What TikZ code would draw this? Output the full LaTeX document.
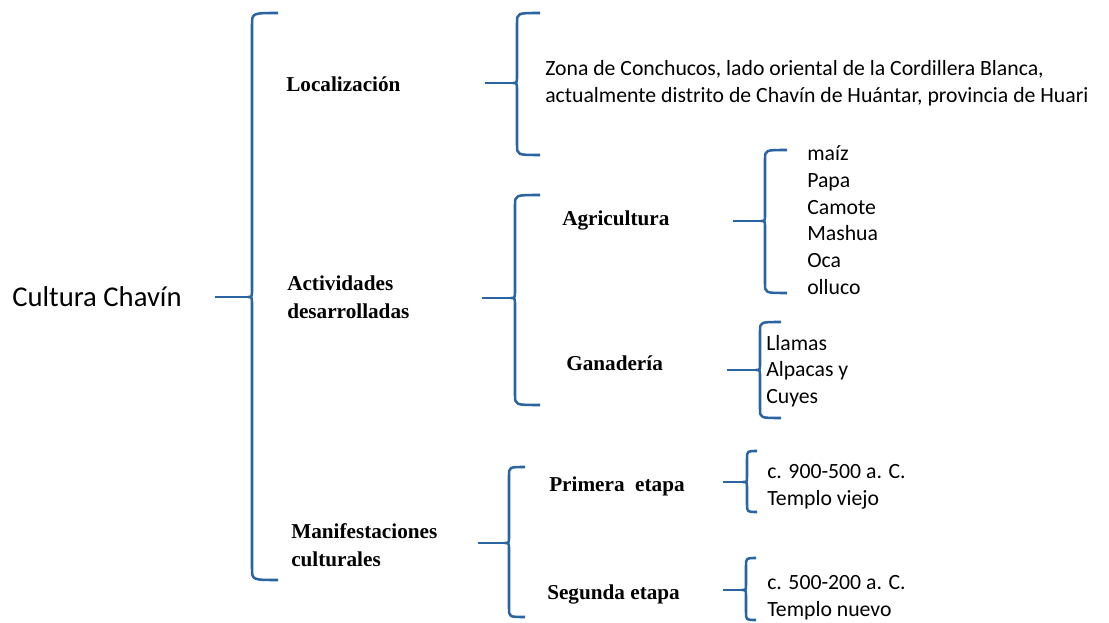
\documentclass[tikz,border=0pt]{standalone}
\usepackage{fontspec}
\setmainfont{Carlito}
\newfontfamily\romana{Liberation Serif}
\usepackage{tikz}

\definecolor{azulllave}{RGB}{42,100,162}

\tikzset{
  llave/.style={draw=azulllave, line width=1.9pt, line join=round},
  titulo/.style={anchor=west, inner sep=0pt, font=\fontsize{21.5}{26}\selectfont},
  rama/.style={anchor=west, inner sep=0pt, align=left, font=\romana\bfseries\fontsize{15.9}{21}\selectfont},
  lista/.style={anchor=west, inner sep=0pt, align=left, font=\fontsize{16.3}{20}\selectfont}
}

\begin{document}
\begin{tikzpicture}[x=0.75pt,y=0.75pt,yscale=-1]
\useasboundingbox (0,0) rectangle (1109,623);

% Llave principal
\draw [llave] (278,13) .. controls (252,13) .. (252,25) -- (252,289) .. controls (252,297) .. (248,297) .. controls (252,297) .. (252,305) -- (252,568) .. controls (252,580) .. (278,580) ;
% Llave localizacion
\draw [llave] (540,13) .. controls (517,13) .. (517,23) -- (517,75) .. controls (517,83) .. (513,83) .. controls (517,83) .. (517,91) -- (517,145) .. controls (517,155) .. (540,155) ;
% Llave actividades
\draw [llave] (540,195) .. controls (515,195) .. (515,205) -- (515,290) .. controls (515,298) .. (511,298) .. controls (515,298) .. (515,306) -- (515,395) .. controls (515,405) .. (540,405) ;
% Llave cultivos
\draw [llave] (787,150) .. controls (765,150) .. (765,159) -- (765,214) .. controls (765,221) .. (761,221) .. controls (765,221) .. (765,228) -- (765,284) .. controls (765,293) .. (787,293) ;
% Llave animales
\draw [llave] (781,322) .. controls (760,322) .. (760,331) -- (760,363) .. controls (760,370) .. (756,370) .. controls (760,370) .. (760,377) -- (760,409) .. controls (760,418) .. (781,418) ;
% Llave manifestaciones
\draw [llave] (525,467) .. controls (509,467) .. (509,476) -- (509,536) .. controls (509,543) .. (505,543) .. controls (509,543) .. (509,550) -- (509,608) .. controls (509,617) .. (525,617) ;
% Llave primera etapa
\draw [llave] (757,451) .. controls (747,451) .. (747,459) -- (747,476) .. controls (747,482) .. (743,482) .. controls (747,482) .. (747,488) -- (747,504) .. controls (747,512) .. (757,512) ;
% Llave segunda etapa
\draw [llave] (756,558) .. controls (746,558) .. (746,566) -- (746,584) .. controls (746,590) .. (742,590) .. controls (746,590) .. (746,596) -- (746,612) .. controls (746,620) .. (756,620) ;

% Puntos de los trazos
\coordinate (p0) at (215,297) ; \coordinate (b0) at (249,297) ;
\coordinate (p1) at (485,83) ; \coordinate (b1) at (514,83) ;
\coordinate (p2) at (482,298) ; \coordinate (b2) at (512,298) ;
\coordinate (p3) at (733,221) ; \coordinate (b3) at (762,221) ;
\coordinate (p4) at (727,370) ; \coordinate (b4) at (757,370) ;
\coordinate (p5) at (478,543) ; \coordinate (b5) at (506,543) ;
\coordinate (p6) at (723,482) ; \coordinate (b6) at (744,482) ;
\coordinate (p7) at (723,590) ; \coordinate (b7) at (743,590) ;

\draw [llave] (p0) -- (b0) ;
\draw [llave] (p1) -- (b1) ;
\draw [llave] (p2) -- (b2) ;
\draw [llave] (p3) -- (b3) ;
\draw [llave] (p4) -- (b4) ;
\draw [llave] (p5) -- (b5) ;
\draw [llave] (p6) -- (b6) ;
\draw [llave] (p7) -- (b7) ;

% Text Node
\node [titulo] (raiz) at (12,297) {Cultura Chavín};
% Text Node
\node [rama] (loc) at (286,84) {Localización};
% Text Node
\node [rama] (act) at (287,297) {Actividades\\desarrolladas};
% Text Node
\node [rama] (man) at (291,545) {Manifestaciones\\culturales};
% Text Node
\node [rama] (agr) at (562,220) {Agricultura};
% Text Node
\node [rama] (gan) at (566,363) {Ganadería};
% Text Node
\node [rama] (pri) at (549,486) {Primera\ \ etapa};
% Text Node
\node [rama] (seg) at (547,594) {Segunda etapa};
% Text Node
\node [lista] (zona) at (545,83) {Zona de Conchucos, lado oriental de la Cordillera Blanca,\\actualmente distrito de Chavín de Huántar, provincia de Huari};
% Text Node
\node [lista] (cult) at (807,220) {maíz\\Papa\\Camote\\Mashua\\Oca\\olluco};
% Text Node
\node [lista] (anim) at (766,371) {Llamas\\Alpacas y\\Cuyes};
% Text Node
\node [lista] (et1) at (767,487) {c. 900-500 a. C.\\Templo viejo};
% Text Node
\node [lista] (et2) at (767,598) {c. 500-200 a. C.\\Templo nuevo};

\end{tikzpicture}
\end{document}
